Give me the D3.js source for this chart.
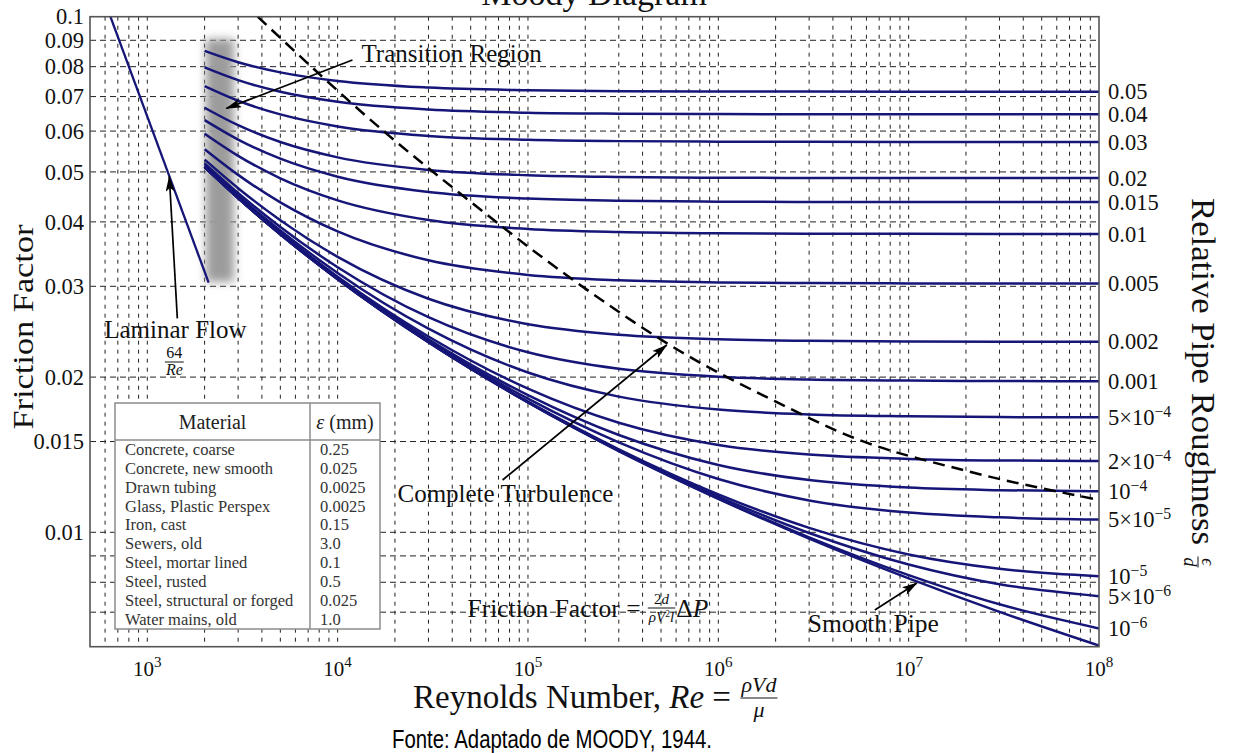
<!DOCTYPE html>
<html><head><meta charset="utf-8">
<script src="https://cdn.jsdelivr.net/npm/d3@7"></script>
<style>body{margin:0;background:#fff} svg{display:block}</style>
</head><body>
<svg id="chart" width="1235" height="753"></svg>
<script>
// ---------------- DATA ----------------
const reDomain = [500, 1e8];
const fDomain = [0.006, 0.1];
const xTickValues = [1e3, 1e4, 1e5, 1e6, 1e7, 1e8];
const xTickExponents = ["3", "4", "5", "6", "7", "8"];
const yTickValues = [0.01, 0.015, 0.02, 0.03, 0.04, 0.05, 0.06, 0.07, 0.08, 0.09, 0.1];
const yTickLabels = ["0.01", "0.015", "0.02", "0.03", "0.04", "0.05", "0.06", "0.07", "0.08", "0.09", "0.1"];
const yGridValues = [0.007, 0.008, 0.009, 0.01, 0.015, 0.02, 0.03, 0.04, 0.05, 0.06, 0.07, 0.08, 0.09];

// Reynolds numbers at which friction factors were read
const reynolds = [2e3, 3e3, 5e3, 1e4, 3e4, 1e5, 3e5, 1e6, 3e6, 1e7, 3e7, 1e8];
const f_0_05   = [0.08584, 0.08161, 0.07799, 0.07504, 0.07286, 0.07200, 0.07172, 0.07161, 0.07157, 0.07155, 0.07155, 0.07155];
const f_0_04   = [0.07972, 0.07532, 0.07152, 0.06840, 0.06608, 0.06515, 0.06485, 0.06473, 0.06469, 0.06467, 0.06467, 0.06467];
const f_0_03   = [0.07334, 0.06870, 0.06464, 0.06127, 0.05873, 0.05770, 0.05737, 0.05724, 0.05719, 0.05717, 0.05717, 0.05717];
const f_0_02   = [0.06659, 0.06159, 0.05714, 0.05336, 0.05045, 0.04926, 0.04887, 0.04872, 0.04867, 0.04865, 0.04864, 0.04864];
const f_0_015  = [0.06302, 0.05778, 0.05304, 0.04895, 0.04573, 0.04439, 0.04395, 0.04378, 0.04372, 0.04370, 0.04369, 0.04369];
const f_0_01   = [0.05929, 0.05372, 0.04860, 0.04404, 0.04034, 0.03875, 0.03822, 0.03801, 0.03794, 0.03792, 0.03791, 0.03790];
const f_0_005  = [0.05534, 0.04934, 0.04364, 0.03833, 0.03369, 0.03156, 0.03082, 0.03052, 0.03043, 0.03039, 0.03037, 0.03037];
const f_0_002  = [0.05283, 0.04650, 0.04030, 0.03422, 0.02838, 0.02533, 0.02417, 0.02368, 0.02352, 0.02345, 0.02343, 0.02342];
const f_0_001  = [0.05197, 0.04551, 0.03910, 0.03267, 0.02613, 0.02234, 0.02075, 0.02003, 0.01978, 0.01969, 0.01965, 0.01964];
const f_5e_4   = [0.05154, 0.04500, 0.03848, 0.03184, 0.02483, 0.02041, 0.01833, 0.01730, 0.01693, 0.01679, 0.01673, 0.01671];
const f_2e_4   = [0.05127, 0.04469, 0.03810, 0.03132, 0.02398, 0.01899, 0.01631, 0.01477, 0.01415, 0.01388, 0.01378, 0.01375];
const f_1e_4   = [0.05118, 0.04459, 0.03797, 0.03115, 0.02368, 0.01845, 0.01544, 0.01351, 0.01263, 0.01221, 0.01207, 0.01201];
const f_5e_5   = [0.05114, 0.04454, 0.03791, 0.03106, 0.02353, 0.01816, 0.01494, 0.01269, 0.01153, 0.01092, 0.01069, 0.01059];
const f_1e_5   = [0.05110, 0.04450, 0.03786, 0.03099, 0.02340, 0.01792, 0.01449, 0.01185, 0.01020, 0.00906, 0.00850, 0.00822];
const f_5e_6   = [0.05110, 0.04449, 0.03785, 0.03098, 0.02339, 0.01789, 0.01443, 0.01173, 0.00997, 0.00866, 0.00793, 0.00752];
const f_1e_6   = [0.05110, 0.04449, 0.03785, 0.03097, 0.02337, 0.01787, 0.01439, 0.01163, 0.00978, 0.00826, 0.00725, 0.00651];
const f_smooth = [0.05110, 0.04449, 0.03785, 0.03097, 0.02337, 0.01786, 0.01437, 0.01161, 0.00972, 0.00814, 0.00701, 0.00603];

const roughnessLabels = ["0.05", "0.04", "0.03", "0.02", "0.015", "0.01", "0.005", "0.002", "0.001",
  "5×10^−4", "2×10^−4", "10^−4", "5×10^−5", "10^−5", "5×10^−6", "10^−6", ""];

const laminarRe = [640, 2100];
const laminarF = [0.1, 0.0305];

const boundaryRe = [3800, 18000, 43700, 172000, 627000, 2.02e6, 5.1e6, 2.02e7, 9.5e7];
const boundaryF  = [0.1, 0.0594, 0.0455, 0.0309, 0.02247, 0.0179, 0.01527, 0.01315, 0.0116];

const transitionRe = [2030, 2850];
const transitionF = [0.0306, 0.0905];

const materials = ["Concrete, coarse", "Concrete, new smooth", "Drawn tubing", "Glass, Plastic Perspex",
  "Iron, cast", "Sewers, old", "Steel, mortar lined", "Steel, rusted", "Steel, structural or forged", "Water mains, old"];
const materialEpsilon = ["0.25", "0.025", "0.0025", "0.0025", "0.15", "3.0", "0.1", "0.5", "0.025", "1.0"];

const seriesF = [f_0_05, f_0_04, f_0_03, f_0_02, f_0_015, f_0_01, f_0_005, f_0_002, f_0_001,
  f_5e_4, f_2e_4, f_1e_4, f_5e_5, f_1e_5, f_5e_6, f_1e_6, f_smooth];

// ---------------- CHART ----------------
const serif = "'Liberation Serif','Times New Roman',serif";
const ink = "#111";
const svg = d3.select("#chart");
const P = {left: 90, right: 1099, top: 16.7, bottom: 646.7};
const x = d3.scaleLog().domain(reDomain).range([P.left, P.right]);
const y = d3.scaleLog().domain(fDomain).range([P.bottom, P.top]);

const defs = svg.append("defs");
defs.append("clipPath").attr("id", "plotclip").append("rect")
  .attr("x", P.left).attr("y", P.top).attr("width", P.right - P.left).attr("height", P.bottom - P.top);
defs.append("filter").attr("id", "blur").attr("x", "-60%").attr("y", "-20%").attr("width", "220%").attr("height", "140%")
  .append("feGaussianBlur").attr("stdDeviation", 5);
defs.append("marker").attr("id", "arr").attr("viewBox", "0 0 16 9").attr("refX", 15).attr("refY", 4.5)
  .attr("markerWidth", 16).attr("markerHeight", 9).attr("orient", "auto").attr("markerUnits", "userSpaceOnUse")
  .append("path").attr("d", "M0,0 L16,4.5 L0,9 L3.5,4.5 Z").attr("fill", "#000");

// Title (clipped at the top of the picture, as in the reference)
svg.append("text").attr("x", 594).attr("y", 5).attr("text-anchor", "middle")
  .attr("font-family", serif).attr("font-size", 34).attr("fill", ink).text("Moody Diagram");

const plot = svg.append("g").attr("clip-path", "url(#plotclip)");

// grid
const xGrid = x.ticks().filter(v => v > reDomain[0] * 1.001 && v < reDomain[1] * 0.999);
plot.append("g").selectAll("line").data(xGrid).join("line")
  .attr("x1", d => x(d)).attr("x2", d => x(d)).attr("y1", P.top).attr("y2", P.bottom)
  .attr("stroke", "#222").attr("stroke-width", 1).attr("stroke-dasharray", "4,5");
plot.append("g").selectAll("line").data(yGridValues).join("line")
  .attr("x1", P.left).attr("x2", P.right).attr("y1", d => y(d)).attr("y2", d => y(d))
  .attr("stroke", "#222").attr("stroke-width", 1).attr("stroke-dasharray", "6,4");

// transition band
plot.append("rect")
  .attr("x", x(transitionRe[0])).attr("width", x(transitionRe[1]) - x(transitionRe[0]))
  .attr("y", y(transitionF[1])).attr("height", y(transitionF[0]) - y(transitionF[1]))
  .attr("fill", "#9c9c9c").attr("filter", "url(#blur)");

// curves
const line = d3.line().x(d => x(d[0])).y(d => y(d[1])).curve(d3.curveMonotoneX);
plot.append("g").selectAll("path").data(seriesF).join("path")
  .attr("d", s => line(reynolds.map((r, i) => [r, s[i]])))
  .attr("fill", "none").attr("stroke", "#161678").attr("stroke-width", 2.5);

// laminar
plot.append("path").attr("d", d3.line().x(d => x(d[0])).y(d => y(d[1]))(laminarRe.map((r, i) => [r, laminarF[i]])))
  .attr("fill", "none").attr("stroke", "#161678").attr("stroke-width", 2.3);

// complete turbulence boundary
plot.append("path").attr("d", line(boundaryRe.map((r, i) => [r, boundaryF[i]])))
  .attr("fill", "none").attr("stroke", "#000").attr("stroke-width", 2.5).attr("stroke-dasharray", "12,7");

// frame
svg.append("rect").attr("x", P.left).attr("y", P.top).attr("width", P.right - P.left).attr("height", P.bottom - P.top)
  .attr("fill", "none").attr("stroke", "#555").attr("stroke-width", 1.6);

// ---------- helpers ----------
function rich(sel, parts, size, supRatio = 0.72, supRise = 0.42) {
  let shifted = 0;
  parts.forEach(p => {
    const ts = sel.append("tspan").text(p.t);
    if (p.i) ts.attr("font-style", "italic");
    if (p.sup) {
      ts.attr("font-size", size * supRatio).attr("dy", -size * supRise - shifted);
      shifted = -size * supRise;
    } else if (shifted !== 0) {
      ts.attr("dy", -shifted); shifted = 0;
    }
  });
}
function fraction(g, cx, yBar, num, den, size, gapUp = 0.22, gapDown = 0.8) {
  const n = g.append("text").attr("x", cx).attr("y", yBar - size * gapUp).attr("text-anchor", "middle")
    .attr("font-family", serif).attr("font-size", size).attr("fill", ink);
  rich(n, num, size);
  const d = g.append("text").attr("x", cx).attr("y", yBar + size * gapDown).attr("text-anchor", "middle")
    .attr("font-family", serif).attr("font-size", size).attr("fill", ink);
  rich(d, den, size, 0.65, 0.3);
  const w = Math.max(n.node().getComputedTextLength(), d.node().getComputedTextLength());
  g.append("line").attr("x1", cx - w / 2 - 1).attr("x2", cx + w / 2 + 1).attr("y1", yBar).attr("y2", yBar)
    .attr("stroke", ink).attr("stroke-width", 1);
  return w + 2;
}

// y tick labels (left)
svg.append("g").selectAll("text").data(yTickValues).join("text")
  .attr("x", 84).attr("y", d => y(d)).attr("dy", "0.34em").attr("text-anchor", "end")
  .attr("font-family", serif).attr("font-size", 22.5).attr("fill", ink)
  .text((d, i) => yTickLabels[i]);

// x tick labels
const xt = svg.append("g");
xTickValues.forEach((v, i) => {
  const t = xt.append("text").attr("x", x(v)).attr("y", 676).attr("text-anchor", "middle")
    .attr("font-family", serif).attr("font-size", 21).attr("fill", ink);
  rich(t, [{t: "10"}, {t: xTickExponents[i], sup: true}], 21);
});

// right labels (relative roughness)
const rl = svg.append("g");
seriesF.forEach((s, i) => {
  const lab = roughnessLabels[i];
  if (!lab) return;
  const t = rl.append("text").attr("x", 1108).attr("y", y(s[s.length - 1])).attr("dy", "0.34em")
    .attr("font-family", serif).attr("font-size", 22.5).attr("fill", ink);
  if (lab.includes("^")) {
    const [base, exp] = lab.split("^");
    rich(t, [{t: base}, {t: exp, sup: true}], 22.5, 0.7, 0.34);
  } else t.text(lab);
});

// axis titles
svg.append("text").attr("transform", "translate(33,327) rotate(-90)").attr("text-anchor", "middle")
  .attr("font-family", serif).attr("font-size", 30).attr("fill", ink)
  .attr("textLength", 205).attr("lengthAdjust", "spacingAndGlyphs").text("Friction Factor");

const rg = svg.append("g").attr("transform", "translate(1192,198) rotate(90)");
rg.append("text").attr("x", 0).attr("y", 0).attr("font-family", serif).attr("font-size", 33).attr("fill", ink)
  .attr("textLength", 347).attr("lengthAdjust", "spacingAndGlyphs").text("Relative Pipe Roughness");
fraction(rg, 364, -6, [{t: "ϵ", i: true}], [{t: "d", i: true}], 18);

// x title
const xg = svg.append("g");
const xtText = xg.append("text").attr("y", 708).attr("font-family", serif).attr("font-size", 33).attr("fill", ink);
rich(xtText, [{t: "Reynolds Number, "}, {t: "Re", i: true}, {t: " = "}], 33);
const l1 = xtText.node().getComputedTextLength();
const fracW = 56;
const x0 = 600 - (l1 + fracW) / 2;
xtText.attr("x", x0);
fraction(xg, x0 + l1 + fracW / 2, 698, [{t: "ρVd", i: true}], [{t: "μ", i: true}], 22, 0.28, 0.86);

// source
svg.append("text").attr("x", 552).attr("y", 748).attr("text-anchor", "middle")
  .attr("font-family", "'Liberation Sans',Arial,sans-serif").attr("font-size", 25).attr("fill", "#000")
  .attr("textLength", 320).attr("lengthAdjust", "spacingAndGlyphs").text("Fonte: Adaptado de MOODY, 1944.");

// ---------- annotations ----------
const ann = svg.append("g");
function arrow(r1, f1, r2, f2) {
  ann.append("line").attr("x1", x(r1)).attr("y1", y(f1)).attr("x2", x(r2)).attr("y2", y(f2))
    .attr("stroke", "#000").attr("stroke-width", 1.7).attr("marker-end", "url(#arr)");
}
function label(r, f, txt, size) {
  return ann.append("text").attr("x", x(r)).attr("y", y(f)).attr("font-family", serif)
    .attr("font-size", size).attr("fill", ink).text(txt);
}
// Transition region
arrow(11960, 0.0824, 2603, 0.0664);
label(13340, 0.0818, "Transition Region", 25);
// Laminar flow
arrow(1438, 0.0260, 1305, 0.049);
label(594, 0.0238, "Laminar Flow", 25);
fraction(ann, x(1387), 362, [{t: "64"}], [{t: "Re", i: true}], 16, 0.22, 0.82);
// Complete turbulence
arrow(73550, 0.01263, 535500, 0.02308);
label(20620, 0.01144, "Complete Turbulence", 25);
// Smooth pipe
arrow(6.64e6, 0.007066, 1.105e7, 0.007975);
label(2.95e6, 0.00641, "Smooth Pipe", 25.5);
// Friction factor formula
const ff = label(48130, 0.00686, "Friction Factor = ", 25.5);
const ffw = ff.node().getComputedTextLength();
const fx = x(48130) + ffw;
const fw = fraction(ann, fx + 21, 608, [{t: "2"}, {t: "d", i: true}], [{t: "ρV", i: true}, {t: "2", sup: true}, {t: "l", i: true}], 15, 0.25, 0.9);
const dp = ann.append("text").attr("x", fx + 21 + fw / 2 + 1).attr("y", y(0.00686)).attr("font-family", serif)
  .attr("font-size", 25.5).attr("fill", ink);
rich(dp, [{t: "Δ"}, {t: "P", i: true}], 25.5);

// ---------- material table ----------
const tb = svg.append("g");
const TB = {x: 115, y: 403, w: 265, h: 226, head: 37, col: 310};
tb.append("rect").attr("x", TB.x).attr("y", TB.y).attr("width", TB.w).attr("height", TB.h)
  .attr("fill", "#fff").attr("stroke", "#8c8c8c").attr("stroke-width", 1.5);
tb.append("line").attr("x1", TB.x).attr("x2", TB.x + TB.w).attr("y1", TB.y + TB.head).attr("y2", TB.y + TB.head)
  .attr("stroke", "#8c8c8c").attr("stroke-width", 1.5);
tb.append("line").attr("x1", TB.col).attr("x2", TB.col).attr("y1", TB.y).attr("y2", TB.y + TB.h)
  .attr("stroke", "#8c8c8c").attr("stroke-width", 1.5);
tb.append("text").attr("x", (TB.x + TB.col) / 2).attr("y", TB.y + 26).attr("text-anchor", "middle")
  .attr("font-family", serif).attr("font-size", 20).attr("fill", "#222").text("Material");
const eh = tb.append("text").attr("x", (TB.col + TB.x + TB.w) / 2).attr("y", TB.y + 26).attr("text-anchor", "middle")
  .attr("font-family", serif).attr("font-size", 20).attr("fill", "#222");
rich(eh, [{t: "ε", i: true}, {t: " (mm)"}], 20);
tb.selectAll("text.mat").data(materials).join("text").attr("class", "mat")
  .attr("x", 125).attr("y", (d, i) => 455 + i * 18.86)
  .attr("font-family", serif).attr("font-size", 16.5).attr("fill", "#333").text(d => d);
tb.selectAll("text.eps").data(materialEpsilon).join("text").attr("class", "eps")
  .attr("x", 320).attr("y", (d, i) => 455 + i * 18.86)
  .attr("font-family", serif).attr("font-size", 16.5).attr("fill", "#333").text(d => d);
</script>
</body></html>
